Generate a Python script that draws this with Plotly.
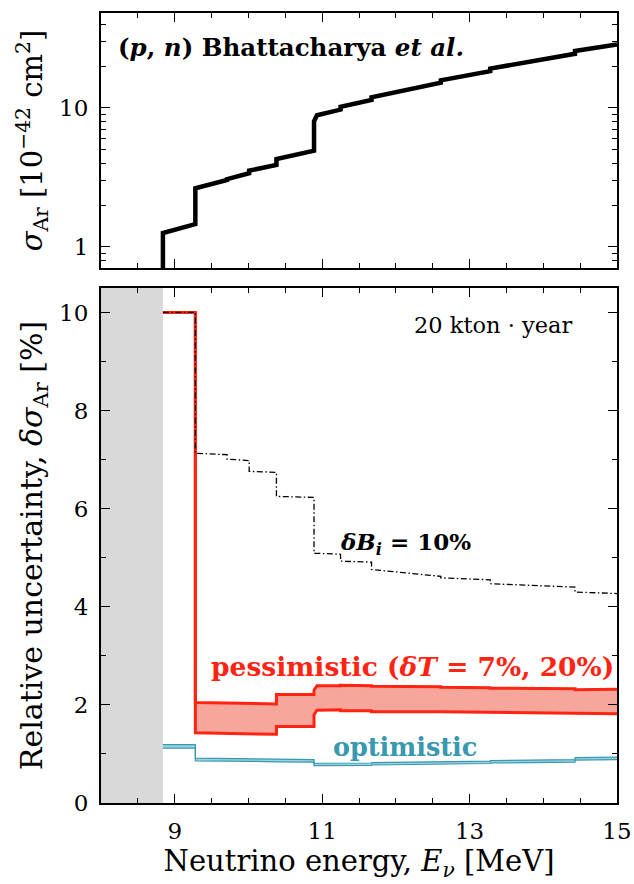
import plotly.graph_objects as go

# Energy bin edges [MeV]: reaction threshold, level thresholds, upper end
bounds = [8.84, 9.28, 9.71, 10.01, 10.38, 10.89, 10.93, 11.25, 11.67, 12.61, 13.28, 14.43, 15.0]

# Cross section [1e-42 cm^2], value at start / end of each bin
sigma_floor = 0.5
sigma_start = [1.26, 2.64, 3.07, 3.54, 4.28, 8.01, 8.85, 10.2, 11.9, 15.8, 19.2, 25.7]
sigma_end = [1.46, 3.03, 3.39, 3.89, 4.92, 8.85, 9.73, 11.4, 15.2, 18.4, 24.5, 28.6]

# Relative uncertainty [%] with delta B_i = 10 %
dB_start = [10.0, 7.13, 7.01, 6.76, 6.25, 5.09, 5.09, 4.93, 4.76, 4.59, 4.47, 4.30]
dB_end = [10.0, 7.10, 6.98, 6.74, 6.23, 5.09, 5.07, 4.91, 4.62, 4.55, 4.40, 4.27]

# Pessimistic scenario: upper (dT = 20 %) and lower (dT = 7 %) edges
pess_hi_start = [10.0, 2.05, 2.04, 2.03, 2.21, 2.30, 2.39, 2.40, 2.38, 2.36, 2.34, 2.31]
pess_hi_end = [10.0, 2.04, 2.03, 2.02, 2.21, 2.39, 2.39, 2.39, 2.37, 2.35, 2.33, 2.32]
pess_lo_start = [10.0, 1.43, 1.41, 1.40, 1.56, 1.80, 1.89, 1.88, 1.86, 1.86, 1.84, 1.82]
pess_lo_end = [10.0, 1.42, 1.40, 1.40, 1.56, 1.89, 1.90, 1.88, 1.86, 1.85, 1.83, 1.82]

# Optimistic scenario band
opt_hi_start = [1.19, 0.915, 0.905, 0.90, 0.89, 0.81, 0.81, 0.815, 0.825, 0.845, 0.865, 0.925]
opt_hi_end = [1.19, 0.91, 0.90, 0.89, 0.885, 0.81, 0.80, 0.815, 0.835, 0.855, 0.885, 0.935]
opt_lo_start = [1.12, 0.86, 0.855, 0.85, 0.84, 0.76, 0.76, 0.765, 0.775, 0.795, 0.815, 0.875]
opt_lo_end = [1.12, 0.86, 0.85, 0.84, 0.835, 0.76, 0.75, 0.765, 0.785, 0.805, 0.835, 0.885]

x_ticks = [9, 11, 13, 15]
y_ticks_bottom = [0, 2, 4, 6, 8, 10]


def piecewise(starts, ends):
    xs, ys = [], []
    for i, (a, b) in enumerate(zip(starts, ends)):
        xs += [bounds[i], bounds[i + 1]]
        ys += [a, b]
    return xs, ys


FONT = "DejaVu Serif"
RED = "#ff2412"
TEAL = "#3798b0"

fig = go.Figure()

# --- top panel: cross section ---
sx, sy = piecewise(sigma_start, sigma_end)
fig.add_trace(go.Scatter(x=[bounds[0]] + sx, y=[sigma_floor] + sy, mode="lines",
                         line=dict(color="black", width=4.5), xaxis="x", yaxis="y"))

# --- bottom panel: uncertainties ---
ox, oy_lo = piecewise(opt_lo_start, opt_lo_end)
_, oy_hi = piecewise(opt_hi_start, opt_hi_end)
fig.add_trace(go.Scatter(x=ox, y=oy_lo, mode="lines", line=dict(color=TEAL, width=1.2),
                         xaxis="x2", yaxis="y2"))
fig.add_trace(go.Scatter(x=ox, y=oy_hi, mode="lines", line=dict(color=TEAL, width=1.2),
                         fill="tonexty", fillcolor="rgba(125,195,212,0.75)",
                         xaxis="x2", yaxis="y2"))

px, py_lo = piecewise(pess_lo_start, pess_lo_end)
_, py_hi = piecewise(pess_hi_start, pess_hi_end)
fig.add_trace(go.Scatter(x=px, y=py_lo, mode="lines", line=dict(color=RED, width=3),
                         xaxis="x2", yaxis="y2"))
fig.add_trace(go.Scatter(x=px, y=py_hi, mode="lines", line=dict(color=RED, width=3),
                         fill="tonexty", fillcolor="rgba(246,150,138,0.85)",
                         xaxis="x2", yaxis="y2"))

bx, by = piecewise(dB_start, dB_end)
fig.add_trace(go.Scatter(x=bx, y=by, mode="lines",
                         line=dict(color="black", width=1.3, dash="6px,2.5px,1.5px,2.5px"),
                         xaxis="x2", yaxis="y2"))

# region below threshold
fig.add_shape(type="rect", xref="x2", yref="y2", x0=8, x1=bounds[0], y0=0, y1=10.5,
              fillcolor="#d9d9d9", line=dict(width=0), layer="below")

axis_common = dict(showline=True, linewidth=2, linecolor="black", mirror="allticks",
                   ticks="inside", ticklen=9, tickwidth=1.3, tickcolor="black",
                   showgrid=False, zeroline=False, automargin=False,
                   tickfont=dict(family=FONT, size=23, color="black"))

fig.update_layout(
    template="none",
    width=634, height=884,
    margin=dict(l=101, r=17, t=13, b=81),
    paper_bgcolor="white", plot_bgcolor="white",
    showlegend=False,
    font=dict(family=FONT, color="black"),
    xaxis=dict(axis_common, domain=[0, 1], anchor="y", range=[8, 15],
               tickvals=x_ticks, showticklabels=False,
               minor=dict(ticks="inside", ticklen=5, dtick=0.5, tick0=8, tickcolor="black")),
    yaxis=dict(axis_common, domain=[0.677, 1], anchor="x", type="log",
               range=[-0.153, 1.683], tickvals=[1, 10], ticktext=["1", "10"],
               ticklabelstandoff=6,
               minor=dict(ticks="inside", ticklen=5, tickcolor="black",
                          tickvals=[0.8, 0.9, 2, 3, 4, 5, 6, 7, 8, 9, 20, 30, 40]),
               title=dict(text="<i>σ</i><sub>Ar</sub> [10<sup>−42</sup> cm<sup>2</sup>]",
                          font=dict(family=FONT, size=29), standoff=8)),
    xaxis2=dict(axis_common, domain=[0, 1], anchor="y2", range=[8, 15],
                tickvals=x_ticks, ticklabelstandoff=6,
                minor=dict(ticks="inside", ticklen=5, dtick=0.5, tick0=8, tickcolor="black"),
                title=dict(text="Neutrino energy, <i>E<sub>ν</sub></i> [MeV]",
                           font=dict(family=FONT, size=29), standoff=8)),
    yaxis2=dict(axis_common, domain=[0, 0.652], anchor="x2", range=[0, 10.5],
                tickvals=y_ticks_bottom, ticklabelstandoff=6,
                minor=dict(ticks="inside", ticklen=5, dtick=1, tick0=0, tickcolor="black"),
                title=dict(text="Relative uncertainty, <i>δσ</i><sub>Ar</sub> [%]",
                           font=dict(family=FONT, size=30), standoff=8)),
)

fig.add_annotation(xref="x", yref="y", x=8.2, y=1.432, xanchor="left", yanchor="middle",
                   text="<b>(<i>p</i>, <i>n</i>) Bhattacharya <i>et al.</i></b>",
                   showarrow=False, font=dict(family=FONT, size=24.5, color="black"))
fig.add_annotation(xref="x2", yref="y2", x=14.41, y=9.74, xanchor="right", yanchor="middle",
                   text="20 kton · year", showarrow=False,
                   font=dict(family=FONT, size=22.5, color="black"))
fig.add_annotation(xref="x2", yref="y2", x=11.21, y=5.3, xanchor="left", yanchor="middle",
                   text="<b><i>δB<sub>i</sub></i> = 10%</b>", showarrow=False,
                   font=dict(family=FONT, size=23, color="black"))
fig.add_annotation(xref="x2", yref="y2", x=12.22, y=2.79, xanchor="center", yanchor="middle",
                   text="<b>pessimistic (<i>δT</i> = 7%, 20%)</b>", showarrow=False,
                   font=dict(family=FONT, size=26.5, color=RED))
fig.add_annotation(xref="x2", yref="y2", x=12.13, y=1.15, xanchor="center", yanchor="middle",
                   text="<b>optimistic</b>", showarrow=False,
                   font=dict(family=FONT, size=25.5, color=TEAL))

fig.write_html("out.html")
